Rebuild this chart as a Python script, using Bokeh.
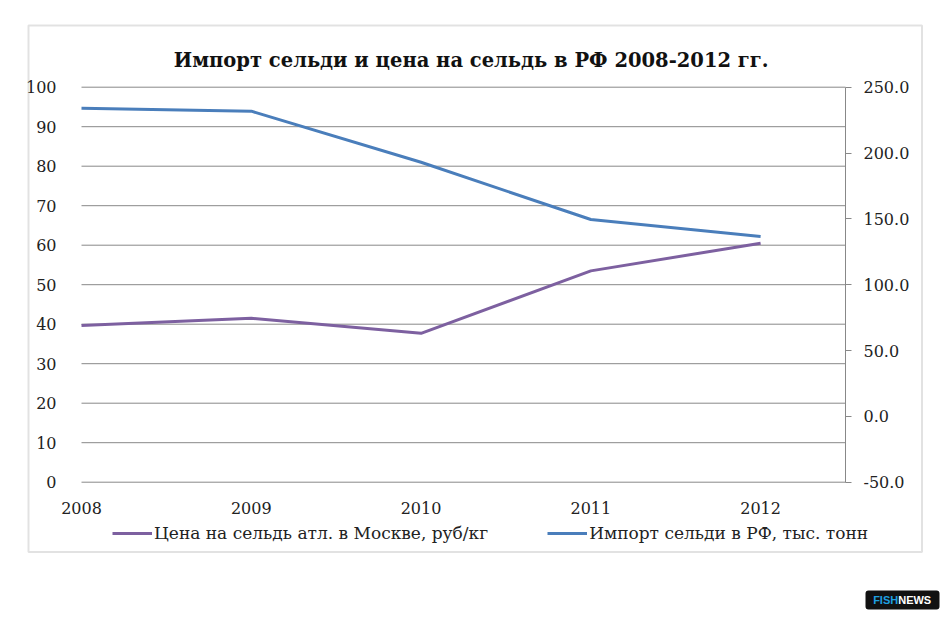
from bokeh.plotting import figure
from bokeh.models import (Range1d, FixedTicker, Label, BoxAnnotation, LinearAxis,
                          Legend, LegendItem, NumeralTickFormatter, ColumnDataSource)
from bokeh.embed import file_html
from bokeh.resources import INLINE

years = [2008, 2009, 2010, 2011, 2012]
price = [39.7, 41.5, 37.7, 53.5, 60.5]
imports = [234.1, 231.8, 193.0, 149.5, 136.6]
left_ticks = list(range(0, 101, 10))
right_ticks = [-50, 0, 50, 100, 150, 200, 250]
title_text = "Импорт сельди и цена на сельдь в РФ 2008-2012  гг."
price_label = "Цена на сельдь атл. в Москве, руб/кг"
import_label = "Импорт сельди в РФ, тыс. тонн"

PURPLE = "#7D60A0"
BLUE = "#4A7EBB"
GRID = "#888888"
FONT = "DejaVu Serif"

# canvas and plot-area geometry (pixels)
W, H = 945, 615
PL, PR, PT, PB = 81, 845, 86.7, 481.7
X0, X1 = 2008, 2012.5
Y0, Y1 = 0, 100
R0, R1 = -50, 250

xs = (PR - PL) / (X1 - X0)
ys = (PB - PT) / (Y1 - Y0)
x_start = X0 - PL / xs
x_end = X0 + (W - PL) / xs
y_start = Y0 - (H - PB) / ys
y_end = Y1 + PT / ys
k = (R1 - R0) / (Y1 - Y0)
r_start = R0 + k * (y_start - Y0)
r_end = R0 + k * (y_end - Y0)

p = figure(width=W, height=H, output_backend="svg", toolbar_location=None,
           x_range=Range1d(x_start, x_end), y_range=Range1d(y_start, y_end),
           min_border=0)
p.outline_line_color = None
p.background_fill_color = "white"
p.border_fill_color = "white"
p.title.visible = False
p.extra_y_ranges = {"imp": Range1d(r_start, r_end)}
p.xgrid.visible = False
p.ygrid.visible = False

# horizontal gridlines across the plot area
p.segment(x0=[X0] * len(left_ticks), x1=[X1] * len(left_ticks),
          y0=left_ticks, y1=left_ticks, line_color=GRID, line_width=1)

src = ColumnDataSource(dict(year=years, price=price, imports=imports))
r_price = p.line("year", "price", source=src, line_color=PURPLE, line_width=3,
                 line_join="round")
r_imp = p.line("year", "imports", source=src, line_color=BLUE, line_width=3,
               line_join="round", y_range_name="imp")

# x axis
xa = p.xaxis[0]
xa.fixed_location = Y0
xa.bounds = (X0, X1)
xa.ticker = FixedTicker(ticks=years)
xa.axis_line_color = None
xa.major_tick_line_color = None
xa.minor_tick_line_color = None
xa.major_label_standoff = 14
xa.major_label_text_font = FONT
xa.major_label_text_font_size = "16px"
xa.major_label_text_color = "#222222"

# left axis
ya = p.yaxis[0]
ya.fixed_location = X0
ya.bounds = (Y0, Y1)
ya.ticker = FixedTicker(ticks=left_ticks)
ya.axis_line_color = None
ya.major_tick_line_color = None
ya.minor_tick_line_color = None
ya.major_label_standoff = 19
ya.major_label_text_font = FONT
ya.major_label_text_font_size = "16px"
ya.major_label_text_color = "#222222"

# right axis
ra = LinearAxis(y_range_name="imp", ticker=FixedTicker(ticks=right_ticks),
                formatter=NumeralTickFormatter(format="0.0"),
                fixed_location=X1, bounds=(R0, R1))
ra.axis_line_color = GRID
ra.major_tick_line_color = GRID
ra.major_tick_in = 0
ra.major_tick_out = 6
ra.minor_tick_line_color = None
ra.major_label_standoff = 12
ra.major_label_text_font = FONT
ra.major_label_text_font_size = "16px"
ra.major_label_text_color = "#222222"
p.add_layout(ra, "right")

# title
p.add_layout(Label(x=474, y=H - 60, x_units="screen", y_units="screen",
                   text=title_text, text_align="center", text_baseline="middle",
                   text_font=FONT, text_font_style="bold",
                   text_font_size="19.5px", text_color="#111111"))

# legend
legend = Legend(items=[LegendItem(label=price_label, renderers=[r_price]),
                       LegendItem(label=import_label, renderers=[r_imp])],
                orientation="horizontal", location=(112, H - 543),
                glyph_width=40, glyph_height=20, label_standoff=2, spacing=59,
                padding=0, margin=0, border_line_color=None,
                background_fill_alpha=0,
                label_text_font=FONT, label_text_font_size="17px",
                label_text_color="#222222")
p.add_layout(legend)

# outer chart border
p.add_layout(BoxAnnotation(left=28, right=921.5, top=H - 25, bottom=H - 551.5,
                           left_units="screen", right_units="screen",
                           top_units="screen", bottom_units="screen",
                           fill_color=None, fill_alpha=0,
                           line_color="#a0a0a0", line_width=2))

# watermark badge
p.add_layout(BoxAnnotation(left=865, right=939, top=H - 590, bottom=H - 609,
                           left_units="screen", right_units="screen",
                           top_units="screen", bottom_units="screen",
                           fill_color="#111111", fill_alpha=1, line_color=None,
                           border_radius=3))
p.add_layout(Label(x=897.7, y=H - 599.5, x_units="screen", y_units="screen",
                   text="FISH", text_align="right", text_baseline="middle",
                   text_font="Liberation Sans", text_font_style="bold",
                   text_font_size="11px", text_color="#1ea0e0"))
p.add_layout(Label(x=897.7, y=H - 599.5, x_units="screen", y_units="screen",
                   text="NEWS", text_align="left", text_baseline="middle",
                   text_font="Liberation Sans", text_font_style="bold",
                   text_font_size="11px", text_color="white"))

open("out.html", "w").write(file_html(p, INLINE))
